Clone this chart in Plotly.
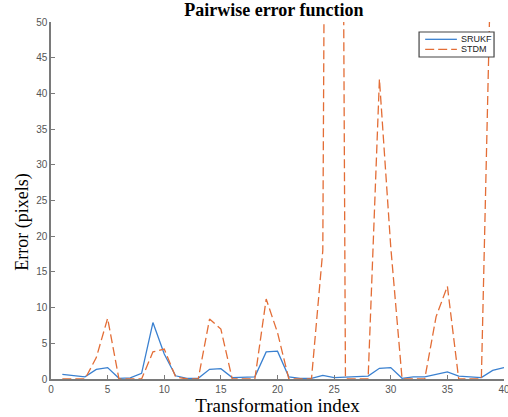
import plotly.graph_objects as go

x_index = list(range(1, 41))
srukf = [0.65, 0.5, 0.3, 1.35, 1.6, 0.1, 0.15, 0.8, 7.9, 3.5,
         0.45, 0.1, 0.1, 1.35, 1.45, 0.2, 0.3, 0.3, 3.8, 3.9,
         0.3, 0.1, 0.1, 0.5, 0.2, 0.3, 0.35, 0.4, 1.5, 1.6,
         0.1, 0.3, 0.3, 0.7, 1.0, 0.4, 0.25, 0.2, 1.2, 1.6]
stdm = [0.0, 0.0, 0.0, 3.0, 8.5, 0.0, 0.0, 0.0, 3.8, 4.2,
        0.3, 0.0, 0.0, 8.4, 7.0, 0.0, 0.0, 0.0, 11.2, 6.5,
        0.0, 0.0, 0.0, 18.0, 330.0, 0.0, 0.0, 0.0, 42.0, 18.5,
        0.0, 0.0, 0.0, 8.7, 13.0, 0.0, 0.0, 0.0, 70.0, 80.0]
series_names = ["SRUKF", "STDM"]
x_ticks = [0, 5, 10, 15, 20, 25, 30, 35, 40]
y_ticks = [0, 5, 10, 15, 20, 25, 30, 35, 40, 45, 50]

blue = "#3a80d0"
orange = "#e36d36"
dash = "9px,4px"

fig = go.Figure()
fig.add_trace(go.Scatter(x=x_index, y=srukf, mode="lines", name=series_names[0],
                         line=dict(color=blue, width=1.3)))
fig.add_trace(go.Scatter(x=x_index, y=stdm, mode="lines", name=series_names[1],
                         line=dict(color=orange, width=1.3, dash=dash)))

# compact MATLAB-style legend box
fig.add_shape(type="rect", xref="paper", yref="paper", x0=0.8125, x1=0.978,
              y0=0.902, y1=0.972, line=dict(color="#444444", width=1.2),
              fillcolor="white", layer="above")
fig.add_shape(type="line", xref="paper", yref="paper", x0=0.826, x1=0.896,
              y0=0.9515, y1=0.9515, line=dict(color=blue, width=1.3), layer="above")
fig.add_shape(type="line", xref="paper", yref="paper", x0=0.826, x1=0.896,
              y0=0.9235, y1=0.9235, line=dict(color=orange, width=1.3, dash=dash),
              layer="above")
for name, yy in zip(series_names, [0.9515, 0.9235]):
    fig.add_annotation(text=name, xref="paper", yref="paper", x=0.901, y=yy,
                       xanchor="left", yanchor="middle", showarrow=False,
                       font=dict(family="Liberation Sans", size=9, color="#222222"))

# y-axis label placed like the reference (slightly below centre)
fig.add_annotation(text="Error (pixels)", xref="paper", yref="paper",
                   x=-0.062, y=0.44, xanchor="center", yanchor="middle",
                   textangle=-90, showarrow=False,
                   font=dict(family="Liberation Serif", size=18, color="black"))

axis_gray = "#7a7a7a"
fig.update_layout(
    width=508, height=417,
    margin=dict(l=51, r=4, t=22, b=38, autoexpand=False),
    paper_bgcolor="white", plot_bgcolor="white",
    showlegend=False,
    title=dict(text="<b>Pairwise error function</b>", x=0.539, xanchor="center",
               y=0.976, yanchor="middle",
               font=dict(family="Liberation Serif", size=18, color="black")),
    xaxis=dict(range=[0, 40], tickvals=x_ticks, ticks="inside", ticklen=4,
               tickcolor=axis_gray, showline=True, linecolor=axis_gray, linewidth=1.5,
               showgrid=False, zeroline=False, ticklabeloverflow="allow",
               automargin=False,
               tickfont=dict(family="Liberation Sans", size=10, color="#555555"),
               title=dict(text="Transformation index", standoff=2,
                          font=dict(family="Liberation Serif", size=19, color="black"))),
    yaxis=dict(range=[0, 50], tickvals=y_ticks, ticks="inside", ticklen=4,
               tickcolor=axis_gray, showline=True, linecolor=axis_gray, linewidth=1.5,
               showgrid=False, zeroline=False, automargin=False,
               tickfont=dict(family="Liberation Sans", size=10, color="#555555")),
)

fig.write_html("out.html", config={"displayModeBar": False},
               post_script="document.body.style.margin='0px';")
